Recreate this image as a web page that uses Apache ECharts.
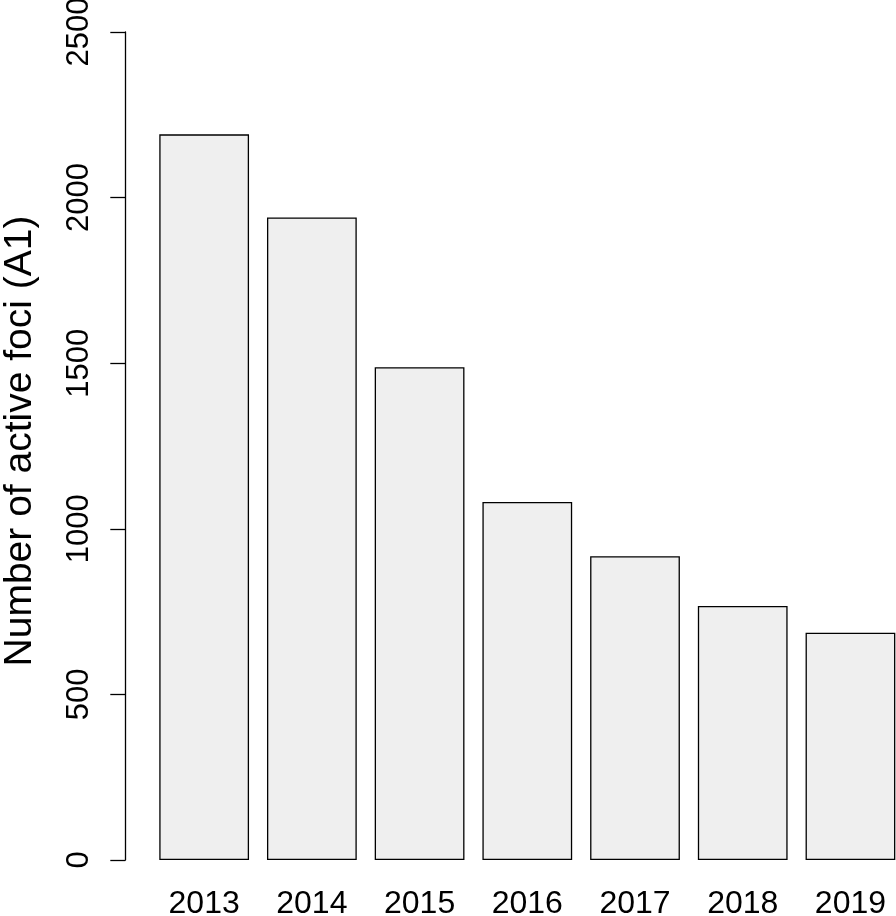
<!DOCTYPE html>
<html>
<head>
<meta charset="utf-8">
<script src="https://cdn.jsdelivr.net/npm/echarts@6/dist/echarts.min.js"></script>
<style>
html,body{margin:0;padding:0;background:#fff;}
#chart{width:896px;height:916px;}
</style>
</head>
<body>
<div id="chart"></div>
<script>
const years = ['2013', '2014', '2015', '2016', '2017', '2018', '2019'];
const activeFoci = [2191, 1940, 1488, 1081, 917, 767, 686];
const yTicks = [0, 500, 1000, 1500, 2000, 2500];
const yTitle = 'Number of active foci (A1)';

const FONT = 'Liberation Sans, Arial, Helvetica, sans-serif';
const chart = echarts.init(document.getElementById('chart'), null, {renderer: 'canvas'});
chart.setOption({
  backgroundColor: '#ffffff',
  animation: false,
  grid: {left: 150.3, top: 32, width: 754, height: 828, containLabel: false, outerBoundsMode: 'none'},
  xAxis: {
    type: 'category',
    data: years,
    boundaryGap: true,
    axisLine: {show: false},
    axisTick: {show: false},
    axisLabel: {color: '#000', fontFamily: FONT, fontSize: 32, margin: 28, interval: 0}
  },
  yAxis: {
    type: 'value',
    min: yTicks[0],
    max: yTicks[yTicks.length - 1],
    interval: 500,
    offset: 25,
    name: yTitle,
    nameLocation: 'middle',
    nameRotate: 90,
    nameGap: 86,
    nameTextStyle: {color: '#000', fontFamily: FONT, fontSize: 39, padding: [0, 0, 0, 10]},
    axisLine: {show: true, lineStyle: {color: '#000', width: 1.3}},
    axisTick: {show: true, inside: false, length: 15, lineStyle: {color: '#000', width: 1.3}},
    splitLine: {show: false},
    axisLabel: {color: '#000', fontFamily: FONT, fontSize: 31, rotate: 90, margin: 30,
      formatter: function (v) { return String(v); }}
  },
  series: [{
    type: 'bar',
    data: activeFoci,
    barWidth: '83.33%',
    itemStyle: {color: '#efefef', borderColor: '#000', borderWidth: 1.3}
  }]
});
</script>
</body>
</html>
